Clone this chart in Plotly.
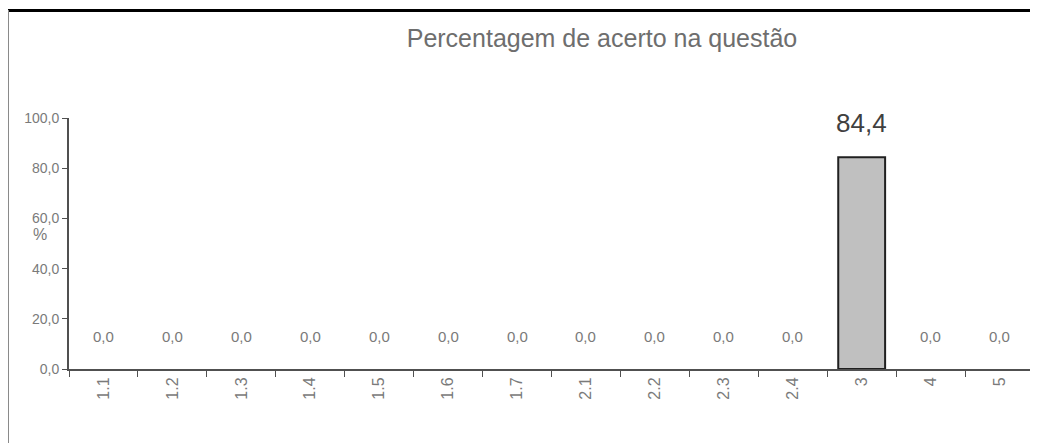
import plotly.graph_objects as go

# Question labels and percentage of correct answers
questoes = ['1.1', '1.2', '1.3', '1.4', '1.5', '1.6', '1.7',
            '2.1', '2.2', '2.3', '2.4', '3', '4', '5']
acerto = [0.0, 0.0, 0.0, 0.0, 0.0, 0.0, 0.0,
          0.0, 0.0, 0.0, 0.0, 84.4, 0.0, 0.0]
y_ticks = [0, 20, 40, 60, 80, 100]

# page body has an 8px margin, so the figure is drawn 8px in
OFF = 8
W, H = 1038 - OFF, 443 - OFF
L, R, T, B = 69 - OFF, 4, 118 - OFF, 74
NARROW = 'Liberation Sans Narrow, Arial Narrow, Liberation Sans, Arial'
SANS = 'Liberation Sans, Arial'


def px_x(p):
    return (p - OFF - L) / (W - L - R)


def px_y(p):
    return (H - B - (p - OFF)) / (H - T - B)


fig = go.Figure()
fig.add_trace(go.Bar(
    x=questoes,
    y=acerto,
    marker=dict(color='#c0c0c0',
                line=dict(color='#202020',
                          width=[2 if v > 0 else 0 for v in acerto])),
    hoverinfo='x+y',
))

# value labels above each bar
for i, v in enumerate(acerto):
    big = v > 0
    fig.add_annotation(
        x=i, y=v, xref='x', yref='y',
        text=f'{v:.1f}'.replace('.', ','),
        showarrow=False, yanchor='bottom', yshift=17 if big else 22,
        font=dict(family=NARROW, size=26 if big else 15,
                  color='#404040' if big else '#7a7a7a'),
    )

# y axis title "%"
fig.add_annotation(
    x=px_x(31), y=px_y(234), xref='paper', yref='paper',
    text='%', showarrow=False,
    font=dict(family=SANS, size=16, color='#7a7a7a'),
)

# frame lines (top black, left gray)
fig.add_shape(type='line', xref='paper', yref='paper',
              x0=px_x(7), x1=px_x(1040), y0=px_y(10.5), y1=px_y(10.5),
              line=dict(color='#000000', width=3))
fig.add_shape(type='line', xref='paper', yref='paper',
              x0=px_x(8), x1=px_x(8), y0=px_y(10), y1=px_y(445),
              line=dict(color='#8a8a8a', width=2))

fig.update_layout(
    width=W, height=H,
    margin=dict(l=L, r=R, t=T, b=B),
    paper_bgcolor='white',
    plot_bgcolor='white',
    separators=',.',
    showlegend=False,
    bargap=0.32,
    title=dict(
        text='Percentagem de acerto na questão',
        x=(602 - OFF) / W, xanchor='center', xref='container',
        y=1 - (38 - OFF) / H, yanchor='middle', yref='container',
        font=dict(family=SANS, size=25, color='#6e6e6e'),
    ),
)

fig.update_xaxes(
    type='category',
    tickangle=-90,
    tickson='boundaries',
    ticks='outside', ticklen=6, tickcolor='#505050', tickwidth=1,
    showline=True, linecolor='#505050', linewidth=2,
    showgrid=False, zeroline=False,
    tickfont=dict(family=SANS, size=16, color='#7a7a7a'),
)

fig.update_yaxes(
    range=[0, 100],
    tickvals=y_ticks,
    tickformat='.1f',
    ticks='outside', ticklen=5, tickcolor='#505050', tickwidth=1,
    showline=True, linecolor='#505050', linewidth=2,
    showgrid=False, zeroline=False,
    tickfont=dict(family=NARROW, size=14, color='#7a7a7a'),
)

fig.write_html('out.html')
